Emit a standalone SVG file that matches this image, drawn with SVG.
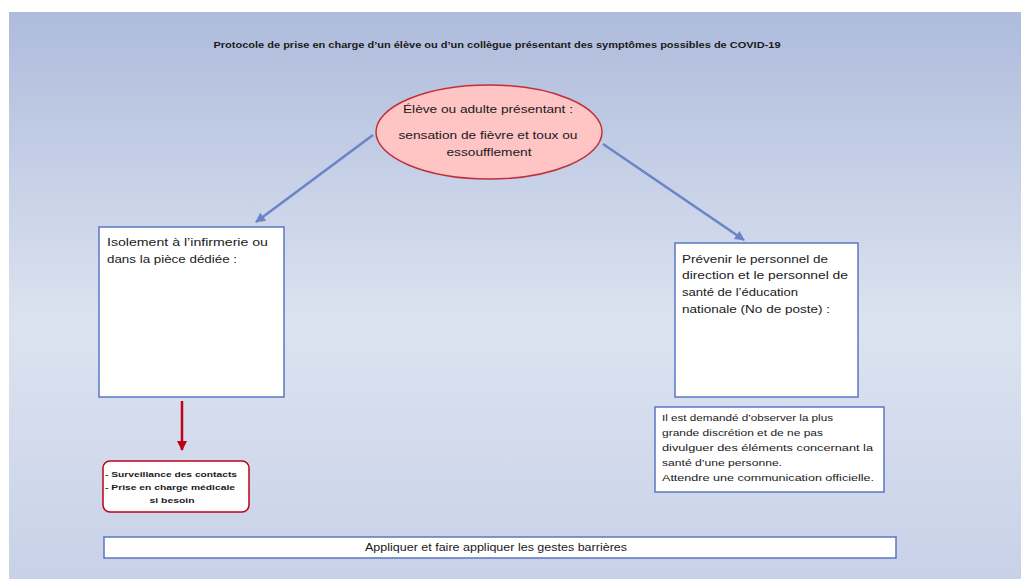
<svg xmlns="http://www.w3.org/2000/svg" width="1021" height="579" viewBox="0 0 1021 579">
<defs>
<linearGradient id="bg" x1="0" y1="0" x2="0" y2="1">
<stop offset="0" stop-color="#AEBBDC"/>
<stop offset="0.55" stop-color="#DCE3F0"/>
<stop offset="1" stop-color="#C8D1E8"/>
</linearGradient>
<marker id="ab" viewBox="0 0 10 10" refX="9" refY="5" markerWidth="4" markerHeight="4" orient="auto" markerUnits="strokeWidth">
<path d="M0,0 L10,5 L0,10 z" fill="#6A84C6"/>
</marker>
<marker id="ar" viewBox="0 0 10 10" refX="9" refY="5" markerWidth="4" markerHeight="4" orient="auto" markerUnits="strokeWidth">
<path d="M0,0 L10,5 L0,10 z" fill="#C00018"/>
</marker>
</defs>
<style>
text{font-family:"Liberation Sans",Arial,sans-serif;fill:#1a1a1a;}
.t11{font-size:11px;}
.t9{font-size:9px;}
.b8{font-size:8px;font-weight:bold;}
.box{fill:#FFFFFF;stroke:#5B77C0;stroke-width:1.5;}
.conn{stroke:#6A84C6;stroke-width:2.5;fill:none;}
</style>
<rect x="0" y="0" width="1021" height="579" fill="#FFFFFF"/>
<rect x="9" y="12" width="1012" height="567" fill="url(#bg)"/>
<text x="497" y="48" text-anchor="middle" style="font-size:9px;font-weight:bold" textLength="567" lengthAdjust="spacingAndGlyphs">Protocole de prise en charge d’un élève ou d’un collègue présentant des symptômes possibles de COVID-19</text>

<g id="connectors">
<line class="conn" x1="373" y1="135" x2="256" y2="222" marker-end="url(#ab)"/>
<line class="conn" x1="603" y1="144" x2="744" y2="240" marker-end="url(#ab)"/>
<line x1="182" y1="401" x2="182" y2="450" stroke="#C00018" stroke-width="2.5" marker-end="url(#ar)"/>
</g>

<g id="start">
<ellipse cx="489" cy="132" rx="113" ry="47" fill="#FFC4C4" stroke="#C0303A" stroke-width="1.5"/>
<text class="t11" x="488" y="113" text-anchor="middle" textLength="170" lengthAdjust="spacingAndGlyphs">Élève ou adulte présentant :</text>
<text class="t11" x="488" y="139" text-anchor="middle" textLength="179" lengthAdjust="spacingAndGlyphs">sensation de fièvre et toux ou</text>
<text class="t11" x="489" y="156" text-anchor="middle" textLength="85" lengthAdjust="spacingAndGlyphs">essoufflement</text>
</g>

<g id="isolement">
<rect class="box" x="99" y="227" width="185" height="170"/>
<text class="t11" x="107" y="246" textLength="161" lengthAdjust="spacingAndGlyphs">Isolement à l’infirmerie  ou</text>
<text class="t11" x="107" y="263" textLength="130" lengthAdjust="spacingAndGlyphs">dans la pièce dédiée  :</text>
</g>

<g id="prevenir">
<rect class="box" x="675" y="243" width="183" height="154"/>
<text class="t11" x="682" y="263" textLength="146" lengthAdjust="spacingAndGlyphs">Prévenir le personnel de</text>
<text class="t11" x="682" y="279" textLength="166" lengthAdjust="spacingAndGlyphs">direction et le personnel de</text>
<text class="t11" x="682" y="296" textLength="116" lengthAdjust="spacingAndGlyphs">santé de l’éducation</text>
<text class="t11" x="682" y="313" textLength="148" lengthAdjust="spacingAndGlyphs">nationale (No de poste) :</text>
</g>

<g id="surveillance">
<rect x="103" y="461" width="146" height="51" rx="7" fill="#FFFFFF" stroke="#C00018" stroke-width="1.5"/>
<text class="b8" x="105" y="477" textLength="132" lengthAdjust="spacingAndGlyphs">- Surveillance  des contacts</text>
<text class="b8" x="105" y="490" textLength="130" lengthAdjust="spacingAndGlyphs">- Prise en charge médicale</text>
<text class="b8" x="172" y="503" text-anchor="middle" textLength="45" lengthAdjust="spacingAndGlyphs">si besoin</text>
</g>

<g id="note">
<rect class="box" x="655" y="407" width="229" height="85"/>
<text class="t9" x="662" y="421" textLength="171" lengthAdjust="spacingAndGlyphs">Il est demandé d’observer la plus</text>
<text class="t9" x="662" y="436" textLength="161" lengthAdjust="spacingAndGlyphs">grande discrétion et de ne pas</text>
<text class="t9" x="662" y="451" textLength="211" lengthAdjust="spacingAndGlyphs">divulguer des éléments concernant la</text>
<text class="t9" x="662" y="466" textLength="120" lengthAdjust="spacingAndGlyphs">santé d’une personne.</text>
<text class="t9" x="662" y="481" textLength="212" lengthAdjust="spacingAndGlyphs">Attendre une communication officielle.</text>
</g>

<g id="gestes">
<rect class="box" x="104" y="537" width="792" height="21"/>
<text style="font-size:10px" x="496" y="551" text-anchor="middle" textLength="262" lengthAdjust="spacingAndGlyphs">Appliquer et faire appliquer les gestes barrières</text>
</g>
</svg>
